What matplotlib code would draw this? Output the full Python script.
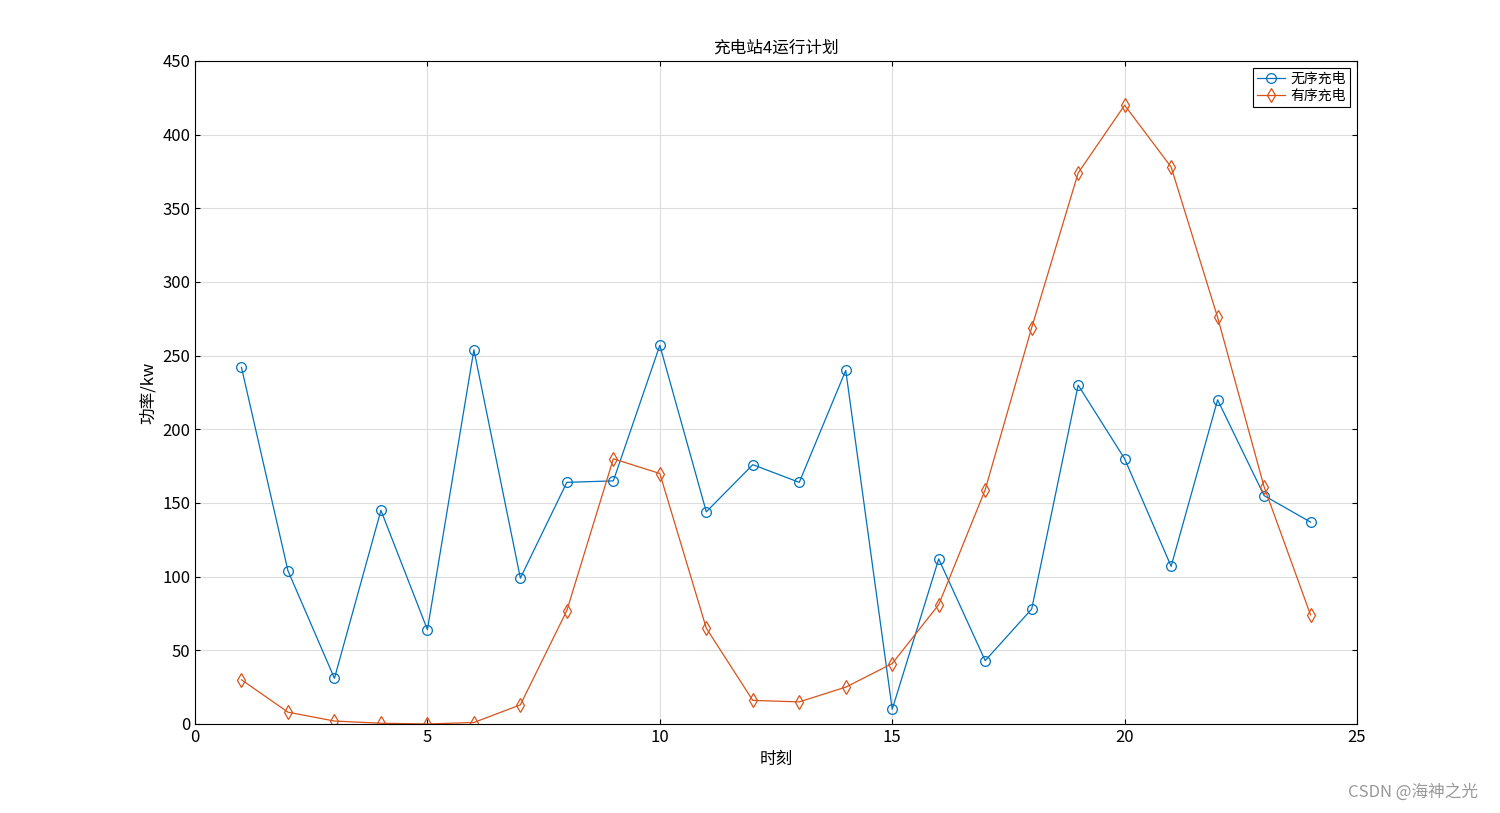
import matplotlib
matplotlib.use('Agg')
import matplotlib.pyplot as plt

plt.rcParams['font.family'] = ['Noto Sans CJK SC', 'DejaVu Sans']

hours = list(range(1, 25))
unordered = [242, 104, 31, 145, 64, 254, 99, 164, 165, 257, 144, 176,
             164, 240, 10, 112, 43, 78, 230, 180, 107, 220, 155, 137]
ordered = [30, 8, 2, 0.5, 0, 1, 13, 77, 180, 170, 65, 16,
           15, 25, 41, 81, 159, 269, 374, 420, 378, 276, 161, 74]

fig = plt.figure(figsize=(15, 8.13), dpi=100)
ax = fig.add_axes([0.13, 0.1095, 0.7747, 0.8155])

ax.plot(hours, unordered, '-o', color='#0072BD', lw=0.9, ms=7,
        mfc='none', mew=0.9, label='无序充电')
ax.plot(hours, ordered, '-d', color='#D95319', lw=0.9, ms=7,
        mfc='none', mew=0.9, label='有序充电')

ax.set_xlim(0, 25)
ax.set_ylim(0, 450)
ax.set_xticks(range(0, 26, 5))
ax.set_yticks(range(0, 451, 50))
ax.grid(True, color='#dddddd', lw=0.8)
ax.tick_params(direction='in', labelsize=12, top=True, right=True)
for s in ax.spines.values():
    s.set_linewidth(0.8)

ax.set_title('充电站4运行计划', fontsize=12)
ax.set_xlabel('时刻', fontsize=12)
ax.set_ylabel('功率/kw', fontsize=12)

leg = ax.legend(loc='upper right', fontsize=10, fancybox=False,
                edgecolor='black', framealpha=1, borderpad=0.3,
                labelspacing=0.2, handletextpad=0.4)
leg.get_frame().set_linewidth(0.8)

fig.text(0.985, 0.015, 'CSDN @海神之光', ha='right', va='bottom',
         fontsize=12, color='#999999')

fig.savefig('out.png')
